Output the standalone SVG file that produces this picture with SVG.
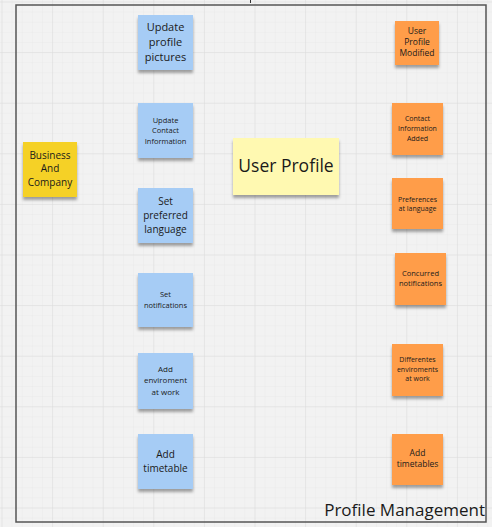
<svg xmlns="http://www.w3.org/2000/svg" width="492" height="527" viewBox="0 0 492 527">
<defs>
<pattern id="minor" x="1.5" y="1.5" width="10.12" height="10.12" patternUnits="userSpaceOnUse">
<path d="M0 0H10.12M0 0V10.12" fill="none" stroke="#e9e9e9" stroke-width="0.8"/>
</pattern>
<pattern id="major" x="1.5" y="1.5" width="50.6" height="50.6" patternUnits="userSpaceOnUse">
<path d="M0 0H50.6M0 0V50.6" fill="none" stroke="#dcdcdc" stroke-width="1"/>
</pattern>
<filter id="sh" x="-20%" y="-20%" width="140%" height="160%">
<feDropShadow dx="0" dy="3" stdDeviation="1.8" flood-color="#000" flood-opacity="0.35"/>
</filter>
</defs>
<style>
.t{font-family:"Open Sans","Noto Sans",sans-serif;fill:#1a1a1a;text-anchor:middle}
.blue{fill:#a6ccf5}
.org{fill:#ff9d48}
.yel{fill:#f5d128}
.lyel{fill:#fff9b1}
</style>
<rect width="492" height="527" fill="#f2f2f2"/>
<rect width="492" height="527" fill="url(#minor)"/>
<rect width="492" height="527" fill="url(#major)"/>
<line x1="250.5" y1="0" x2="250.5" y2="3" stroke="#333" stroke-width="1"/>
<g id="frame">
<rect x="16" y="5" width="470" height="517" fill="none" stroke="#555" stroke-width="1.5"/>
<text class="t" x="485" y="516" font-size="17" style="text-anchor:end">Profile Management</text>
</g>
<g id="connectors"></g>
<g id="business">
<rect x="23" y="142" width="54" height="55" class="yel" filter="url(#sh)"/>
<text class="t" font-size="10" x="50" y="158.5">Business</text>
<text class="t" font-size="10" x="50" y="172">And</text>
<text class="t" font-size="10" x="50" y="185.5">Company</text>
</g>
<g id="user-profile">
<rect x="233" y="138" width="106" height="57" class="lyel" filter="url(#sh)"/>
<text class="t" font-size="17.5" x="286" y="172">User Profile</text>
</g>
<g id="update-pictures">
<rect x="138" y="15" width="55" height="55" class="blue" filter="url(#sh)"/>
<text class="t" font-size="11" x="165.5" y="31">Update</text>
<text class="t" font-size="11" x="165.5" y="46">profile</text>
<text class="t" font-size="11" x="165.5" y="61">pictures</text>
</g>
<g id="update-contact">
<rect x="138" y="103" width="55" height="55" class="blue" filter="url(#sh)"/>
<text class="t" font-size="7.5" x="165.5" y="122.5">Update</text>
<text class="t" font-size="7.5" x="165.5" y="133">Contact</text>
<text class="t" font-size="7.5" x="165.5" y="143.5">Information</text>
</g>
<g id="set-language">
<rect x="138" y="188" width="55" height="55" class="blue" filter="url(#sh)"/>
<text class="t" font-size="10" x="165.5" y="204.5">Set</text>
<text class="t" font-size="10" x="165.5" y="218.5">preferred</text>
<text class="t" font-size="10" x="165.5" y="232.5">language</text>
</g>
<g id="set-notifications">
<rect x="138" y="273" width="55" height="54" class="blue" filter="url(#sh)"/>
<text class="t" font-size="7.5" x="165.5" y="296.5">Set</text>
<text class="t" font-size="7.5" x="165.5" y="307.5">notifications</text>
</g>
<g id="add-environment">
<rect x="138" y="353" width="55" height="56" class="blue" filter="url(#sh)"/>
<text class="t" font-size="8" x="165.5" y="372">Add</text>
<text class="t" font-size="8" x="165.5" y="383">enviroment</text>
<text class="t" font-size="8" x="165.5" y="394.5">at work</text>
</g>
<g id="add-timetable">
<rect x="138" y="434" width="55" height="55" class="blue" filter="url(#sh)"/>
<text class="t" font-size="10" x="165.5" y="457.5">Add</text>
<text class="t" font-size="10" x="165.5" y="471.5">timetable</text>
</g>
<g id="profile-modified">
<rect x="395" y="21" width="44" height="44" class="org" filter="url(#sh)"/>
<text class="t" font-size="8.5" x="417" y="34">User</text>
<text class="t" font-size="8.5" x="417" y="45">Profile</text>
<text class="t" font-size="8.5" x="417" y="56">Modified</text>
</g>
<g id="contact-added">
<rect x="392" y="103" width="51" height="52" class="org" filter="url(#sh)"/>
<text class="t" font-size="7" x="417.5" y="120.5">Contact</text>
<text class="t" font-size="7" x="417.5" y="130.5">Information</text>
<text class="t" font-size="7" x="417.5" y="140.5">Added</text>
</g>
<g id="preferences-language">
<rect x="392" y="178" width="51" height="51" class="org" filter="url(#sh)"/>
<text class="t" font-size="7" x="417.5" y="201.5">Preferences</text>
<text class="t" font-size="7" x="417.5" y="211">at language</text>
</g>
<g id="concurred-notifications">
<rect x="395" y="253" width="51" height="52" class="org" filter="url(#sh)"/>
<text class="t" font-size="7.5" x="420.5" y="275.5">Concurred</text>
<text class="t" font-size="7.5" x="420.5" y="285.5">notifications</text>
</g>
<g id="different-environments">
<rect x="392" y="344" width="51" height="52" class="org" filter="url(#sh)"/>
<text class="t" font-size="7" x="417.5" y="361.5">Differentes</text>
<text class="t" font-size="7" x="417.5" y="371.5">enviroments</text>
<text class="t" font-size="7" x="417.5" y="381">at work</text>
</g>
<g id="add-timetables">
<rect x="392" y="434" width="51" height="51" class="org" filter="url(#sh)"/>
<text class="t" font-size="8.5" x="417.5" y="456">Add</text>
<text class="t" font-size="8.5" x="417.5" y="467">timetables</text>
</g>
</svg>
